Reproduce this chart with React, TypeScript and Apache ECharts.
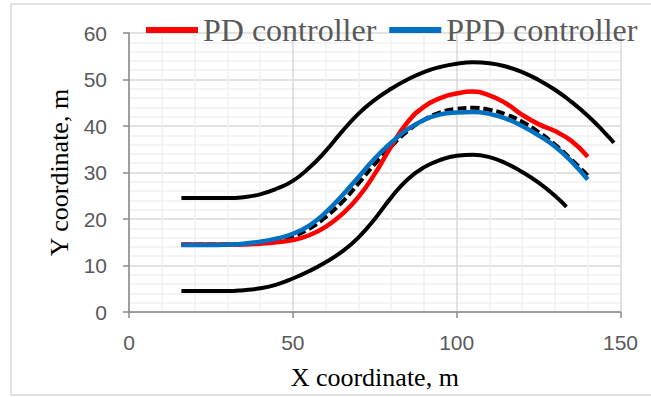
import React, { useEffect, useRef } from "react";
import * as echarts from "echarts";

const upperX = [16, 20, 25, 30, 35, 40, 45, 50, 55, 60, 65, 70, 75, 80, 85, 90, 95, 100, 105, 110, 115, 120, 125, 130, 135, 140, 145, 148];
const upperY = [24.5, 24.5, 24.5, 24.5, 24.7, 25.3, 26.5, 28.2, 31, 34.6, 38.8, 42.6, 45.6, 48, 50, 51.6, 52.7, 53.4, 53.7, 53.5, 52.8, 51.6, 49.9, 47.8, 45.2, 42.2, 38.7, 36.4];

const lowerX = [16, 20, 25, 30, 35, 40, 45, 50, 55, 60, 65, 70, 75, 80, 85, 90, 95, 100, 105, 110, 115, 120, 125, 130, 133.5];
const lowerY = [4.5, 4.5, 4.5, 4.5, 4.7, 5.1, 5.9, 7.2, 8.8, 10.7, 13, 16, 20, 24.6, 28.5, 31.1, 32.7, 33.6, 33.8, 33.3, 32, 30.1, 27.8, 25, 22.6];

const refX = [16, 20, 25, 30, 35, 40, 45, 50, 55, 60, 65, 70, 75, 80, 85, 90, 95, 100, 105, 110, 115, 120, 125, 130, 135, 140.5];
const refY = [14.5, 14.5, 14.5, 14.5, 14.6, 14.9, 15.4, 16.3, 17.9, 20.4, 23.6, 27.6, 31.8, 35.6, 38.9, 41.3, 42.9, 43.7, 43.9, 43.5, 42.5, 40.9, 38.7, 36, 32.8, 29];

const pdX = [16, 20, 25, 30, 35, 40, 45, 50, 55, 60, 65, 70, 75, 80, 85, 90, 95, 100, 105, 110, 115, 120, 125, 130, 135, 140];
const pdY = [14.5, 14.5, 14.5, 14.5, 14.5, 14.7, 15, 15.5, 16.5, 18.3, 21, 24.7, 29.7, 35.6, 40.8, 44.1, 46, 47, 47.4, 46.6, 44.9, 42.4, 40.4, 38.9, 36.8, 33.4];

const ppdX = [16, 20, 25, 30, 35, 40, 45, 50, 55, 60, 65, 70, 75, 80, 85, 90, 95, 100, 105, 110, 115, 120, 125, 130, 135, 140];
const ppdY = [14.4, 14.4, 14.4, 14.5, 14.7, 15.1, 15.8, 16.8, 18.6, 21.4, 25, 29, 33, 36.4, 39.3, 41.3, 42.5, 42.9, 43, 42.6, 41.6, 40, 38, 35.6, 32.4, 28.5];

const xTicks = { min: 0, max: 150, interval: 50 };
const yTicks = { min: 0, max: 60, interval: 10 };
const legendNames = ["PD controller", "PPD controller"];

const zip = (xs: number[], ys: number[]) => xs.map((x, i) => [x, ys[i]]);

export default function App() {
  const ref = useRef<HTMLDivElement>(null);
  useEffect(() => {
    document.body.style.margin = "0";
    const chart = echarts.init(ref.current!, null, { renderer: "svg" });
    const axisCommon = {
      axisLine: { show: true, lineStyle: { color: "#898989", width: 1.5 } },
      axisTick: { show: true, length: 6, lineStyle: { color: "#898989", width: 1.5 } },
      axisLabel: { color: "#595959", fontSize: 21, fontFamily: "Liberation Sans" },
      splitLine: { show: true, lineStyle: { color: "#d9d9d9", width: 1.5 } },
      minorTick: { show: false, splitNumber: 5 },
      minorSplitLine: { show: true, lineStyle: { color: "#f0f0f0", width: 1.5 } },
      nameTextStyle: { color: "#000", fontSize: 26, fontFamily: "Liberation Serif" },
      nameLocation: "middle" as const,
    };
    const lineSeries = (name: string, data: number[][], color: string, width: number, dashed = false) => ({
      type: "line" as const,
      name,
      data,
      smooth: true,
      showSymbol: false,
      symbol: "none",
      lineStyle: { color, width, type: dashed ? [9, 4] : "solid" },
      itemStyle: { color },
      z: 2,
    });
    chart.setOption({
      animation: false,
      graphic: [
        {
          type: "rect",
          shape: { x: 11, y: 4, width: 660, height: 391 },
          style: { fill: "none", stroke: "#d9d9d9", lineWidth: 1.5 },
          silent: true,
          z: -10,
        },
      ],
      grid: { left: 129, right: 30.5, top: 33, bottom: 85, containLabel: false },
      legend: {
        data: legendNames,
        left: 146,
        top: 14,
        padding: 0,
        itemGap: 13,
        itemWidth: 52,
        itemHeight: 6,
        icon: "rect",
        textStyle: { color: "#595959", fontSize: 32, fontFamily: "Liberation Serif" },
      },
      xAxis: {
        type: "value",
        ...xTicks,
        ...axisCommon,
        axisLabel: { ...axisCommon.axisLabel, margin: 20 },
        name: "X coordinate, m",
        nameGap: 52,
      },
      yAxis: {
        type: "value",
        ...yTicks,
        ...axisCommon,
        axisLabel: { ...axisCommon.axisLabel, margin: 22 },
        name: "Y coordinate, m",
        nameGap: 56,
      },
      series: [
        lineSeries("Upper boundary", zip(upperX, upperY), "#000000", 4),
        lineSeries("Lower boundary", zip(lowerX, lowerY), "#000000", 4),
        lineSeries("Reference path", zip(refX, refY), "#000000", 4, true),
        lineSeries(legendNames[0], zip(pdX, pdY), "#ff0000", 4.5),
        lineSeries(legendNames[1], zip(ppdX, ppdY), "#0070c0", 4.5),
      ],
    });
    return () => chart.dispose();
  }, []);
  return <div ref={ref} style={{ position: "absolute", left: 0, top: 0, width: 651, height: 397 }} />;
}
